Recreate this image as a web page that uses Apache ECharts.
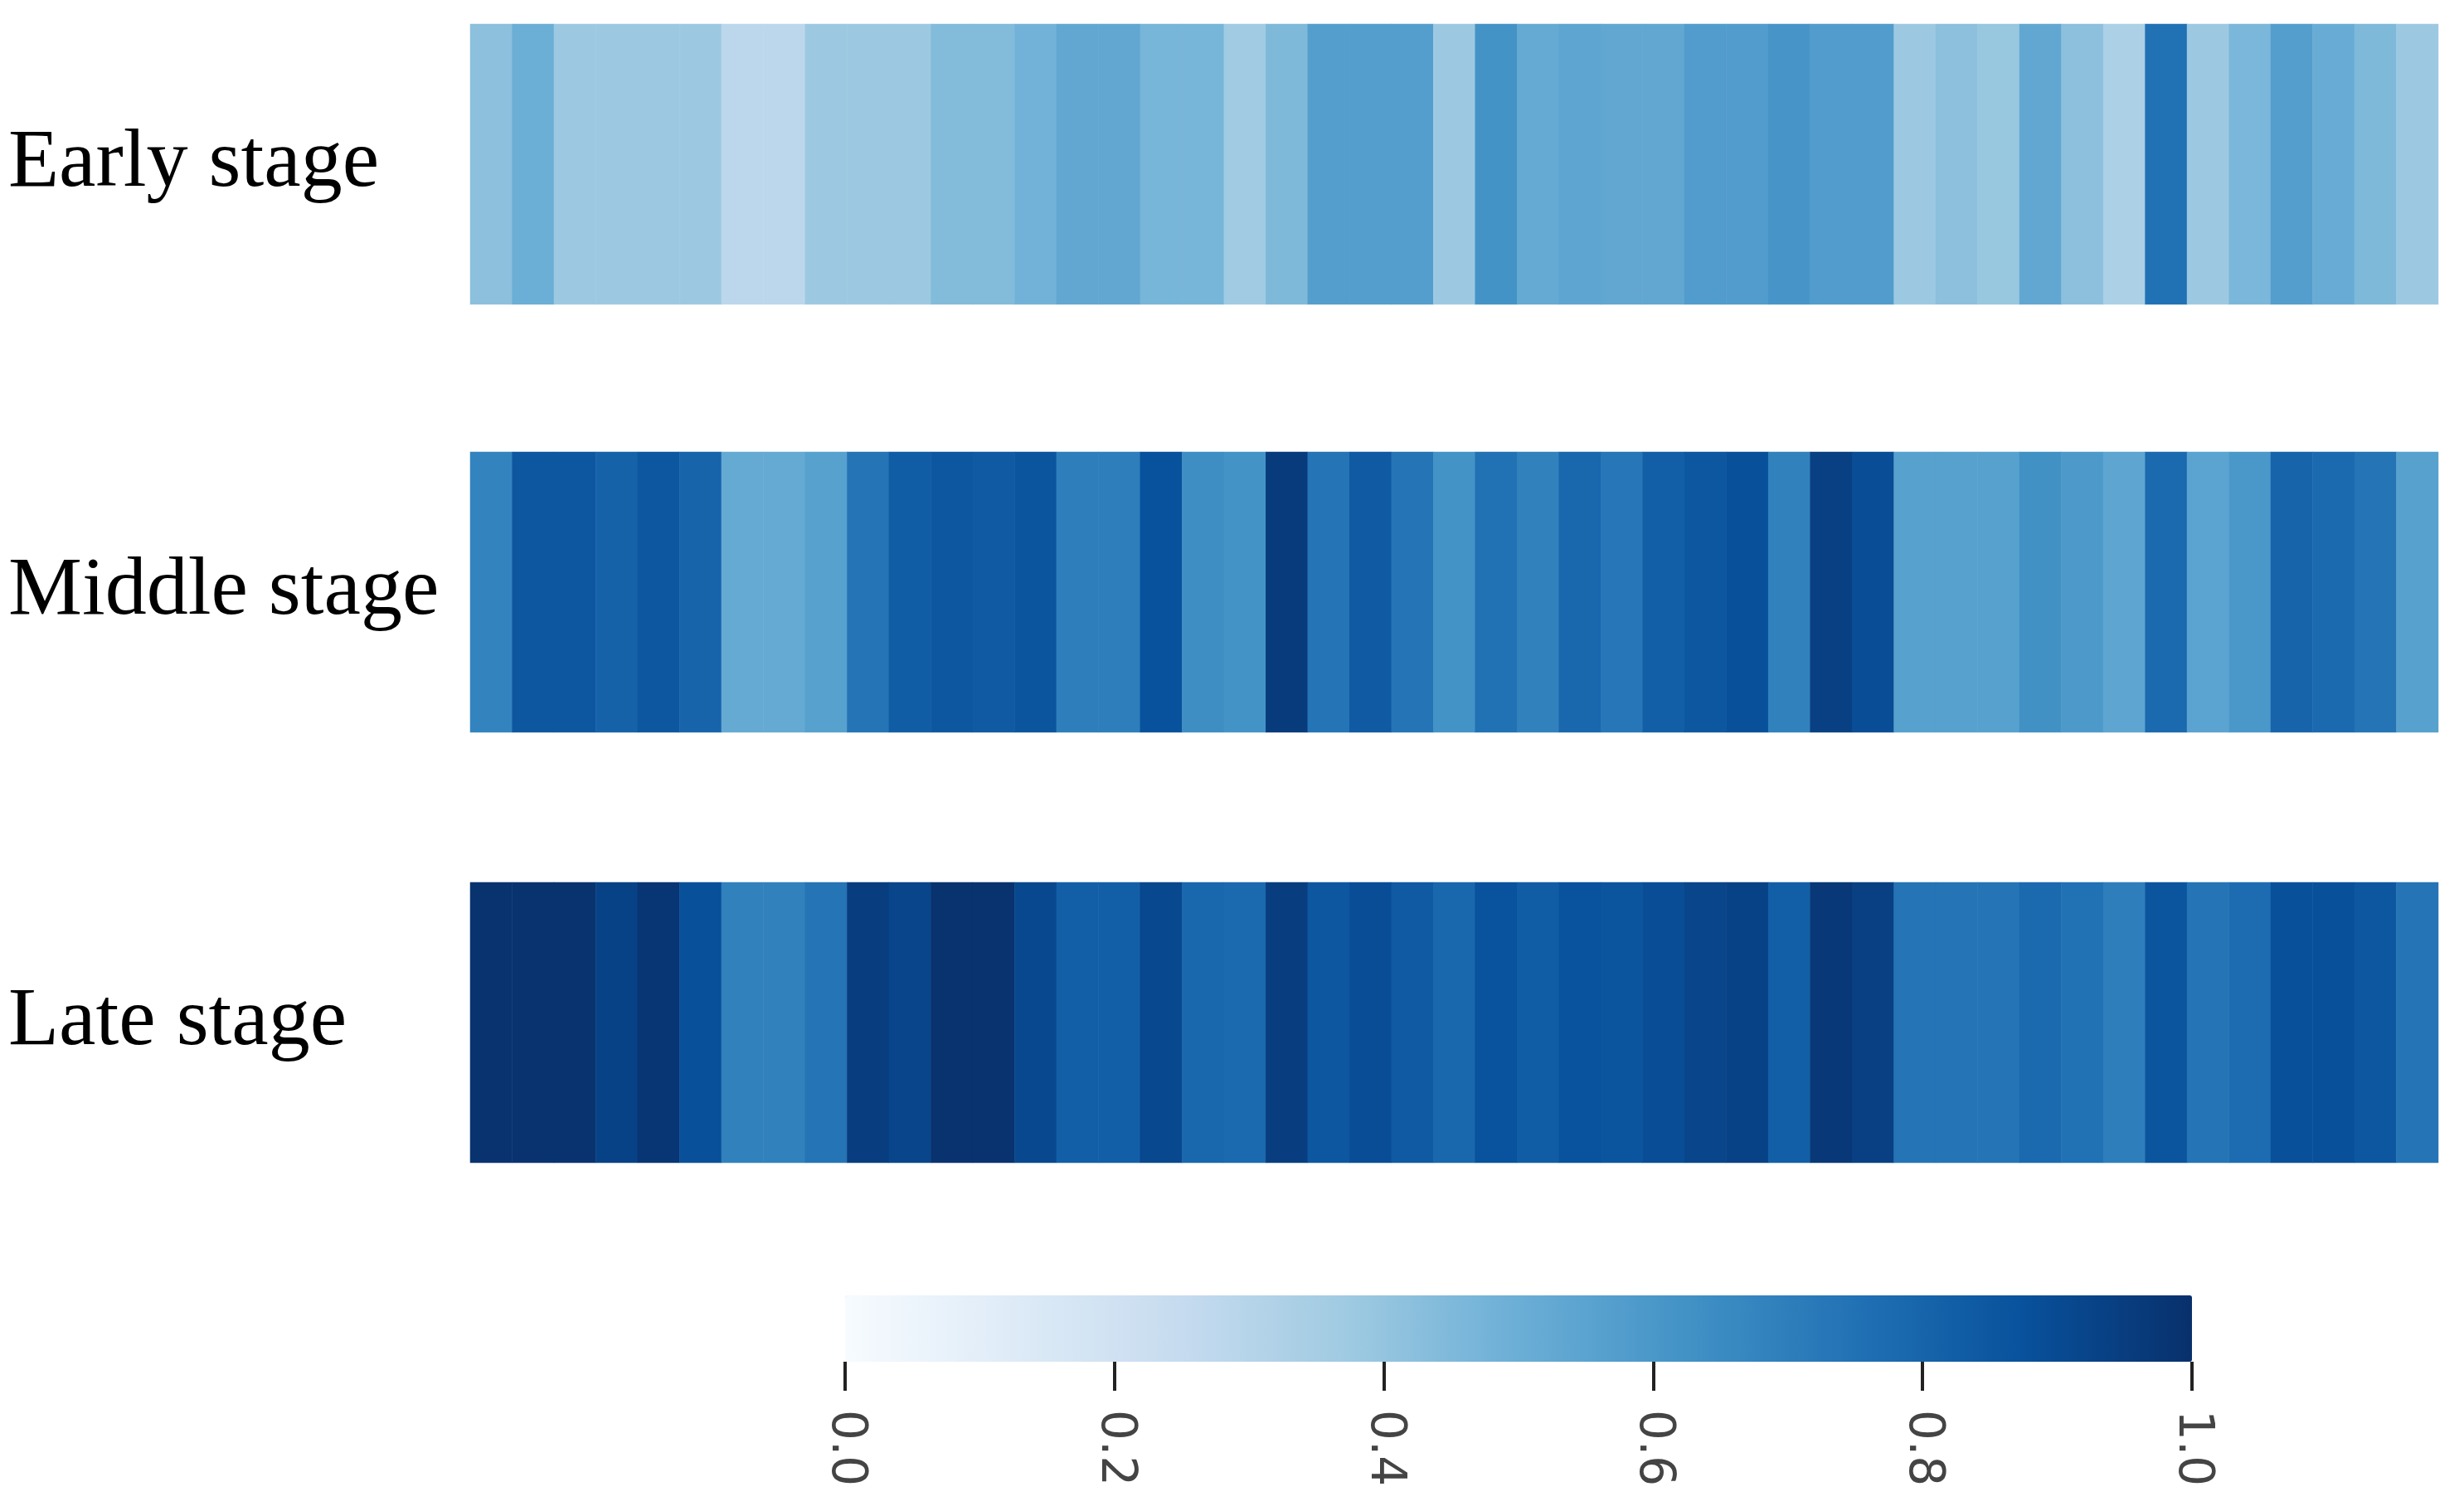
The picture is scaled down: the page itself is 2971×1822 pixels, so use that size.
<!DOCTYPE html>
<html>
<head>
<meta charset="utf-8">
<script src="https://cdn.jsdelivr.net/npm/echarts@6/dist/echarts.min.js"></script>
<style>html,body{margin:0;padding:0;background:#fff}#main{width:2971px;height:1822px}</style>
</head>
<body>
<div id="main"></div>
<script>
var stages = ['Early stage', 'Middle stage', 'Late stage'];
var early = [0.42,0.50,0.38,0.38,0.38,0.38,0.28,0.28,0.38,0.38,0.38,0.44,0.44,0.48,0.53,0.53,
  0.47,0.47,0.37,0.45,0.57,0.57,0.57,0.38,0.62,0.52,0.54,0.53,0.53,0.58,0.58,0.61,
  0.58,0.58,0.38,0.42,0.39,0.53,0.42,0.33,0.75,0.38,0.46,0.57,0.51,0.45,0.38];
var middle = [0.68,0.85,0.85,0.81,0.85,0.80,0.52,0.52,0.56,0.74,0.83,0.85,0.84,0.86,0.70,0.70,
  0.875,0.64,0.62,0.96,0.74,0.84,0.74,0.62,0.75,0.69,0.79,0.73,0.82,0.85,0.88,0.69,
  0.94,0.89,0.56,0.56,0.56,0.63,0.59,0.54,0.78,0.55,0.60,0.80,0.78,0.74,0.56];
var late = [0.99,0.99,0.99,0.93,0.98,0.88,0.69,0.69,0.74,0.95,0.92,0.99,0.99,0.91,0.82,0.82,
  0.91,0.79,0.78,0.95,0.85,0.89,0.84,0.79,0.87,0.83,0.87,0.86,0.89,0.92,0.93,0.82,
  0.97,0.94,0.74,0.74,0.74,0.78,0.75,0.70,0.86,0.74,0.77,0.88,0.88,0.85,0.74];
var barTicks = [0, 0.2, 0.4, 0.6, 0.8, 1.0];

var rows = [early, middle, late];
var blues = ['#f7fbff','#deebf7','#c6dbef','#9ecae1','#6baed6','#4292c6','#2171b5','#08519c','#08306b'];
var rowTops = [29, 545, 1064];
var cols = early.map(function (v, i) { return 'c' + i; });

var chart = echarts.init(document.getElementById('main'));
var grids = [], xAxes = [], yAxes = [], series = [];
rows.forEach(function (vals, r) {
    grids.push({left: 567, right: 31, top: rowTops[r], height: 338});
    xAxes.push({type: 'category', gridIndex: r, data: cols, show: false});
    yAxes.push({type: 'category', gridIndex: r, data: [stages[r]],
        axisLine: {show: false}, axisTick: {show: false},
        axisLabel: {align: 'left', margin: 557, fontSize: 100, color: '#000',
            fontFamily: 'Liberation Serif'}});
    series.push({type: 'heatmap', xAxisIndex: r, yAxisIndex: r,
        data: vals.map(function (v, i) { return [i, 0, v]; })});
});
// colorbar axis
grids.push({left: 1019, width: 1624, top: 1600, height: 42});
xAxes.push({type: 'value', gridIndex: 3, min: 0, max: 1, interval: 0.2,
    axisLine: {show: false}, splitLine: {show: false},
    axisTick: {show: true, length: 35, lineStyle: {color: '#222', width: 4}},
    axisLabel: {rotate: -90, margin: 58, fontSize: 58, color: '#444', fontFamily: 'DejaVu Sans',
        formatter: function (v) { return v.toFixed(1); }},
    data: barTicks});
yAxes.push({type: 'value', gridIndex: 3, show: false});

chart.setOption({
    backgroundColor: '#fff',
    animation: false,
    grid: grids,
    xAxis: xAxes,
    yAxis: yAxes,
    visualMap: {type: 'continuous', min: 0, max: 1, orient: 'horizontal',
        left: 1019, top: 1562, itemWidth: 80, itemHeight: 1624, padding: 0,
        calculable: false, seriesIndex: [0, 1, 2],
        inRange: {color: blues}},
    series: series
});
</script>
</body>
</html>
